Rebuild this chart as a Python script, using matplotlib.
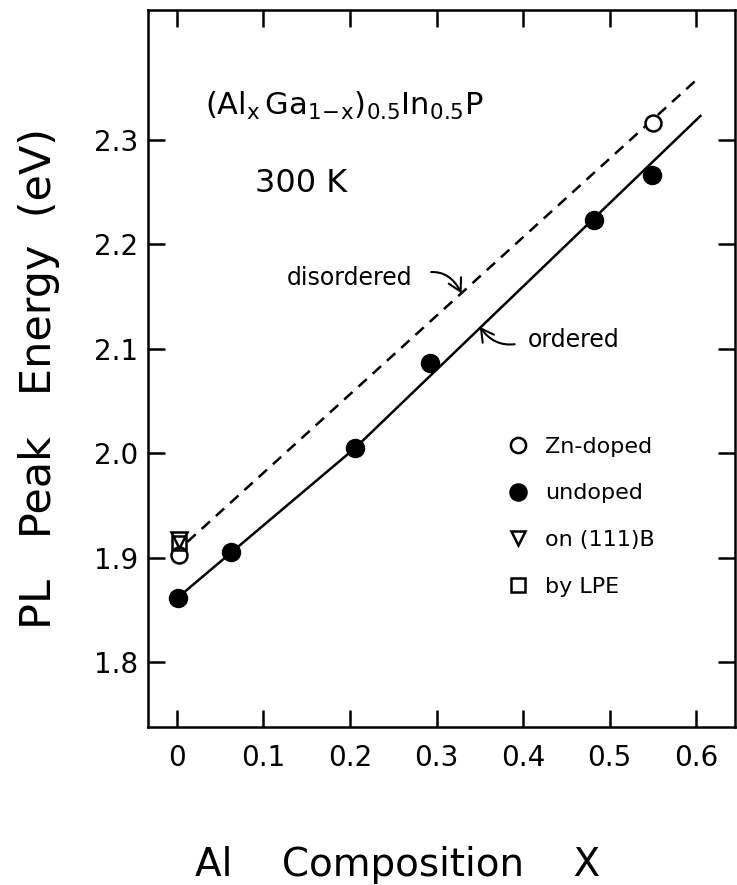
import matplotlib
matplotlib.use('Agg')
import matplotlib.pyplot as plt

# ---------------- data ----------------
undoped_x = [0.001, 0.062, 0.206, 0.292, 0.482, 0.549]
undoped_y = [1.861, 1.905, 2.005, 2.086, 2.223, 2.266]
zn_x = [0.002, 0.550]
zn_y = [1.902, 2.316]
b111_x = [0.002]
b111_y = [1.917]
lpe_x = [0.002]
lpe_y = [1.914]
ordered_x = [0.0, 0.206, 0.605]
ordered_y = [1.861, 2.005, 2.323]
disordered_x = [0.012, 0.605]
disordered_y = [1.915, 2.361]
xticks = [0.0, 0.1, 0.2, 0.3, 0.4, 0.5, 0.6]
xtick_labels = ['0', '0.1', '0.2', '0.3', '0.4', '0.5', '0.6']
yticks = [1.8, 1.9, 2.0, 2.1, 2.2, 2.3]
ytick_labels = ['1.8', '1.9', '2.0', '2.1', '2.2', '2.3']
legend_labels = ['Zn-doped', 'undoped', 'on (111)B', 'by LPE']

plt.rcParams['font.family'] = ['DejaVu Sans']
plt.rcParams['mathtext.fontset'] = 'dejavusans'

W, H = 737, 885
fig = plt.figure(figsize=(W / 100, H / 100), dpi=100)
L, R, T, B = 148, 735, 10, 727
ax = fig.add_axes([L / W, 1 - B / H, (R - L) / W, (B - T) / H])

ax.set_xlim(-0.0335, 0.645)
ax.set_ylim(1.7377, 2.4245)

lw = 1.8
ax.plot(ordered_x, ordered_y, color='black', lw=lw, zorder=1)
ax.plot(disordered_x, disordered_y, color='black', lw=lw, dashes=(4.5, 3.2), zorder=1)

ax.plot(undoped_x, undoped_y, 'o', color='black', ms=13, zorder=3, label=legend_labels[1])
ax.plot(zn_x, zn_y, 'o', mfc='white', mec='black', mew=1.8, ms=11.5, zorder=3, label=legend_labels[0])
ax.plot(lpe_x, lpe_y, 's', mfc='none', mec='black', mew=1.8, ms=10, zorder=4, label=legend_labels[3])
ax.plot(b111_x, b111_y, 'v', mfc='none', mec='black', mew=1.8, ms=11, zorder=4, label=legend_labels[2])

# legend (marker-only handles)
h, l = ax.get_legend_handles_labels()
order = [l.index(s) for s in legend_labels]
leg = ax.legend([h[i] for i in order], [l[i] for i in order], loc='upper left',
                bbox_to_anchor=(0.612, 0.405), frameon=False, fontsize=16,
                handlelength=1.0, handletextpad=0.7, labelspacing=1.2,
                borderpad=0, borderaxespad=0, markerscale=0.95, numpoints=1)

# ticks
ax.set_xticks(xticks)
ax.set_xticklabels(xtick_labels)
ax.set_yticks(yticks)
ax.set_yticklabels(ytick_labels)
ax.tick_params(direction='in', length=12, width=1.8, top=True, right=True,
               labelsize=20)
ax.tick_params(axis='x', pad=12)
ax.tick_params(axis='y', pad=7)
for s in ax.spines.values():
    s.set_linewidth(1.8)

# texts
ax.text(0.032, 2.324, r'$(\mathrm{Al}_{\mathrm{x}}\,\mathrm{Ga}_{1\!-\!\mathrm{x}})_{0.5}\mathrm{In}_{0.5}\mathrm{P}$',
        fontsize=22, va='baseline', ha='left')
ax.text(0.090, 2.250, '300 K', fontsize=23, va='baseline', ha='left')

arrow_kw = dict(arrowstyle='->,head_length=0.45,head_width=0.25', lw=1.5, color='black',
                mutation_scale=20)
ax.annotate('disordered', xy=(0.329, 2.153), xytext=(0.272, 2.168),
            ha='right', va='center', fontsize=17,
            arrowprops=dict(connectionstyle='arc3,rad=-0.5', relpos=(1, 0.5),
                            shrinkA=12, shrinkB=0, **arrow_kw))
ax.annotate('ordered', xy=(0.350, 2.121), xytext=(0.406, 2.108),
            ha='left', va='center', fontsize=17,
            arrowprops=dict(connectionstyle='arc3,rad=-0.4', relpos=(0, 0.5),
                            shrinkA=8, shrinkB=0, **arrow_kw))

ax.set_xlabel('Al    Composition    X', fontsize=28)
ax.xaxis.set_label_coords((397.5 - L) / (R - L), (B - 846) / (B - T))
ax.set_ylabel('PL   Peak   Energy  (eV)', fontsize=31)
ax.yaxis.set_label_coords((60 - L) / (R - L), (B - 378.5) / (B - T))

fig.savefig('out.png', dpi=100)
